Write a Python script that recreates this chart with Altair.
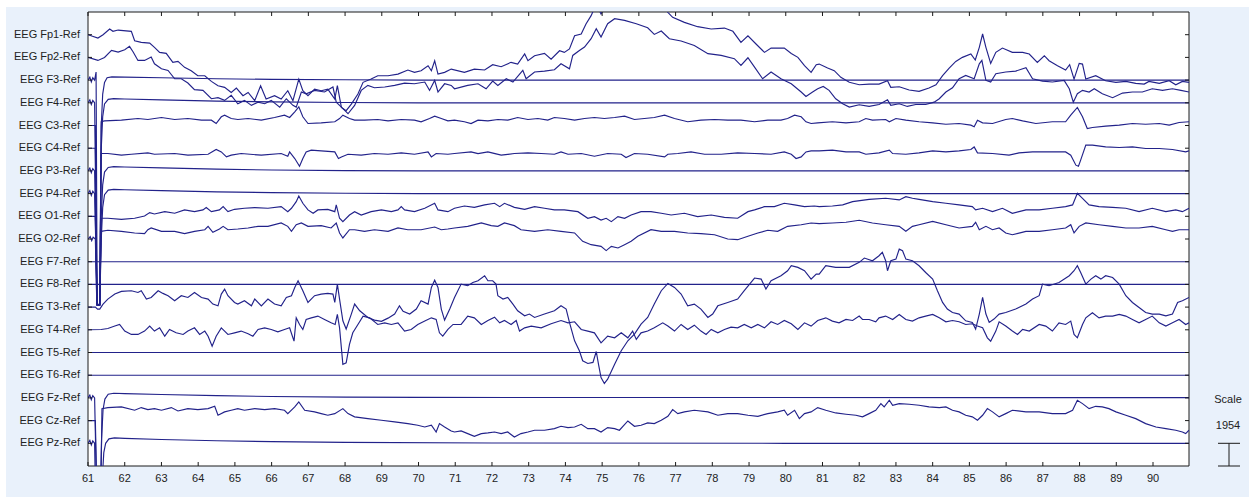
import altair as alt
import pandas as pd

# 19-channel referential EEG montage, 61-91 s window. Values in microvolts.
CHANNELS = [
    "EEG Fp1-Ref", "EEG Fp2-Ref", "EEG F3-Ref", "EEG F4-Ref", "EEG C3-Ref",
    "EEG C4-Ref", "EEG P3-Ref", "EEG P4-Ref", "EEG O1-Ref", "EEG O2-Ref",
    "EEG F7-Ref", "EEG F8-Ref", "EEG T3-Ref", "EEG T4-Ref", "EEG T5-Ref",
    "EEG T6-Ref", "EEG Fz-Ref", "EEG Cz-Ref", "EEG Pz-Ref",
]
SCALE_UV = 1954          # microvolts per trace spacing
SECONDS = list(range(61, 91))

# (time s, amplitude uV) samples per channel
FP1 = [(61.00,0),(61.27,-290),(61.41,0),(61.59,490),(61.68,290),(61.82,400),(62.18,290),(62.27,-520),(62.45,-660),(62.68,-720),(62.81,-1090),(62.95,-1520),(63.13,-1610),(63.31,-2380),(63.45,-2300),(63.63,-2810),(63.81,-3100),(63.99,-3530),(64.18,-3530),(64.36,-4020),(64.54,-4390),(64.72,-4530),(64.90,-4970),(65.04,-4590),(65.22,-5250),(65.36,-4970),(65.54,-5680),(65.70,-4390),(65.85,-5540),(66.08,-5250),(66.26,-5540),(66.44,-4820),(66.58,-5680),(66.74,-3820),(66.85,-4820),(66.99,-5250),(67.17,-4680),(67.35,-4820),(67.53,-4680),(67.72,-5540),(67.79,-4390),(67.90,-6260),(68.03,-6540),(68.17,-5970),(68.35,-5110),(68.49,-4100),(68.71,-3820),(68.89,-3530),(69.17,-3530),(69.44,-3390),(69.71,-3040),(69.89,-3240),(70.07,-3100),(70.26,-2670),(70.35,-3100),(70.44,-2240),(70.53,-3390),(70.71,-3240),(70.89,-2960),(71.25,-3240),(71.52,-2960),(71.80,-3040),(72.02,-2580),(72.25,-2760),(72.52,-2380),(72.70,-2530),(72.89,-1660),(72.98,-2240),(73.16,-1810),(73.43,-1610),(73.61,-2100),(73.84,-1380),(73.97,-1520),(74.11,-1230),(74.25,-90),(74.43,60),(74.56,920),(74.70,1640),(74.84,2640),(74.97,1780),(75.11,2640),(75.34,3500),(76.06,3790),(76.61,2640),(76.79,1920),(76.92,1490),(77.24,1060),(77.60,690),(77.97,490),(78.33,570),(78.56,290),(78.78,-660),(78.97,-90),(79.19,-800),(79.42,-1520),(79.60,-1150),(79.96,-1150),(80.15,-1610),(80.33,-1950),(80.51,-2670),(80.69,-3240),(80.83,-2580),(80.91,-2530),(81.14,-2870),(81.32,-3100),(81.50,-3670),(81.73,-4100),(82.00,-4310),(82.27,-4250),(82.54,-4250),(82.77,-3960),(82.86,-4530),(83.09,-4480),(83.36,-4760),(83.63,-4880),(83.90,-4590),(84.09,-4310),(84.27,-3530),(84.45,-2870),(84.63,-2300),(84.81,-1950),(85.04,-1660),(85.16,-2180),(85.27,-1090),(85.36,60),(85.45,-1090),(85.58,-2470),(85.72,-1520),(85.90,-1150),(86.17,-1520),(86.45,-1520),(86.63,-1660),(86.85,-2380),(87.04,-1810),(87.17,-2240),(87.40,-2670),(87.62,-3040),(87.73,-2580),(87.85,-3820),(87.99,-2470),(88.08,-2530),(88.17,-3820),(88.44,-3530),(88.71,-3960),(88.99,-4100),(89.26,-4020),(89.53,-4190),(89.76,-4250),(89.89,-4020),(90.17,-4190),(90.44,-3960),(90.62,-4310),(90.80,-4020),(90.98,-4100)]

FP2 = [(61.00,0),(61.27,-260),(61.45,0),(61.64,600),(61.82,460),(62.00,660),(62.13,950),(62.23,460),(62.36,-260),(62.54,-260),(62.72,30),(62.81,-550),(63.00,-980),(63.18,-1120),(63.36,-1840),(63.54,-1840),(63.72,-2210),(63.90,-2780),(64.13,-2840),(64.36,-3560),(64.54,-3470),(64.72,-3700),(64.90,-3270),(65.08,-3990),(65.26,-3700),(65.45,-4130),(65.63,-3850),(65.81,-3990),(65.99,-3700),(66.22,-4280),(66.40,-3560),(66.58,-4130),(66.67,-4280),(66.81,-2980),(66.94,-3130),(67.17,-2840),(67.44,-2980),(67.67,-2550),(67.76,-3850),(67.90,-4280),(68.08,-4850),(68.26,-4130),(68.44,-2840),(68.62,-2410),(68.80,-2610),(69.08,-2550),(69.35,-2410),(69.62,-2210),(69.89,-2270),(70.17,-2120),(70.30,-2840),(70.44,-1980),(70.53,-2980),(70.71,-2270),(70.89,-2410),(70.98,-2700),(71.34,-2410),(71.62,-2270),(71.84,-2700),(72.02,-2040),(72.16,-2410),(72.39,-1840),(72.57,-2120),(72.84,-1120),(72.93,-1840),(73.16,-1260),(73.43,-1180),(73.70,-1060),(73.88,-550),(74.11,-980),(74.20,170),(74.38,600),(74.52,890),(74.70,1610),(74.84,2470),(74.97,1750),(75.15,2900),(75.34,3330),(75.61,3190),(75.93,2900),(76.24,2550),(76.42,1980),(76.61,2270),(76.83,1610),(77.15,1410),(77.51,1030),(77.88,320),(78.24,170),(78.60,-110),(78.78,-690),(78.97,-30),(79.15,-830),(79.37,-1840),(79.60,-1260),(79.87,-1840),(80.15,-2270),(80.42,-2980),(80.55,-3360),(80.73,-2980),(80.87,-2700),(81.02,-2500),(81.18,-2840),(81.36,-3560),(81.55,-3990),(81.73,-4280),(82.00,-4080),(82.27,-4220),(82.54,-4050),(82.77,-3640),(82.86,-4130),(83.09,-3990),(83.31,-4220),(83.54,-4050),(83.81,-4050),(84.04,-3850),(84.18,-3560),(84.36,-2980),(84.54,-2610),(84.72,-1840),(84.90,-1550),(85.13,-1840),(85.27,-550),(85.34,-260),(85.45,-1980),(85.58,-2120),(85.72,-1410),(85.99,-1260),(86.26,-1180),(86.54,-890),(86.72,-1840),(86.99,-2040),(87.26,-2120),(87.58,-1980),(87.72,-2700),(87.83,-3850),(87.94,-3130),(88.08,-2840),(88.26,-2980),(88.40,-2700),(88.62,-3130),(88.90,-3470),(89.17,-3070),(89.44,-2980),(89.71,-2980),(89.98,-2700),(90.26,-2840),(90.53,-2700),(90.76,-2840),(90.98,-2980)]

F3 = [(61.00,0),(61.05,250),(61.09,-150),(61.13,200),(61.18,0),(61.22,690),(61.25,-19350),(61.32,-19350),(61.36,-4000),(61.40,-1200),(61.45,-200),(61.52,200),(61.65,280),(62.00,260),(63.00,200),(64.50,120),(66.00,60),(68.00,30),(70.00,0),(91.00,0)]
F4 = [(61.00,0),(61.05,250),(61.09,-150),(61.13,200),(61.18,0),(61.25,-17420),(61.32,-17420),(61.36,-4000),(61.40,-1200),(61.45,-100),(61.55,300),(61.70,360),(62.00,330),(63.00,250),(64.50,150),(66.00,80),(68.00,30),(70.00,0),(91.00,0)]

C3 = [(61.00,0),(61.20,0),(61.24,-15440),(61.32,-15440),(61.36,320),(61.45,400),(61.91,460),(62.36,600),(62.63,520),(63.00,690),(63.36,520),(63.72,600),(64.09,460),(64.36,460),(64.49,170),(64.63,750),(64.72,890),(64.90,600),(65.08,520),(65.36,600),(65.72,460),(66.08,690),(66.35,890),(66.49,690),(66.63,1180),(66.74,1610),(66.85,750),(66.99,170),(67.35,230),(67.72,320),(67.85,600),(67.94,890),(68.12,600),(68.26,460),(68.53,460),(68.89,520),(69.17,400),(69.53,520),(69.89,460),(70.07,320),(70.30,600),(70.44,800),(70.62,600),(70.80,400),(70.98,460),(71.25,320),(71.43,170),(71.62,460),(71.89,400),(72.16,520),(72.43,460),(72.70,690),(72.98,520),(73.25,600),(73.52,460),(73.70,690),(73.97,600),(74.25,460),(74.52,600),(74.79,690),(75.06,600),(75.34,690),(75.61,800),(75.88,520),(76.15,600),(76.42,690),(76.70,890),(76.97,600),(77.33,320),(77.69,460),(78.06,520),(78.42,460),(78.78,460),(79.15,320),(79.51,460),(79.87,460),(80.05,600),(80.24,890),(80.42,750),(80.55,320),(80.69,170),(80.87,230),(81.27,320),(81.64,230),(82.00,320),(82.18,600),(82.36,460),(82.72,520),(82.82,320),(83.00,600),(83.27,460),(83.63,320),(84.00,230),(84.36,110),(84.72,170),(85.04,30),(85.13,-110),(85.22,460),(85.36,230),(85.63,170),(85.99,520),(86.17,600),(86.45,400),(86.81,170),(87.26,320),(87.62,320),(87.76,890),(87.94,1550),(88.08,750),(88.21,-260),(88.35,-170),(88.71,-60),(89.08,30),(89.44,170),(89.80,110),(90.17,170),(90.44,30),(90.71,260),(90.98,320)]

C4 = [(61.00,0),(61.20,0),(61.24,-13500),(61.32,-13500),(61.36,-460),(61.54,-460),(61.91,-600),(62.18,-520),(62.63,-400),(62.81,-520),(63.36,-460),(63.72,-600),(64.27,-520),(64.49,-110),(64.63,-320),(64.77,-750),(64.90,-600),(65.17,-460),(65.72,-600),(66.26,-460),(66.44,-690),(66.49,-320),(66.63,-890),(66.76,-1550),(66.85,-890),(66.94,-320),(67.08,-170),(67.35,-230),(67.72,-320),(67.82,-890),(67.90,-750),(68.08,-520),(68.44,-600),(68.80,-460),(69.17,-520),(69.53,-400),(69.89,-520),(70.26,-320),(70.35,-750),(70.48,-460),(70.80,-520),(70.98,-460),(71.43,-320),(71.62,-460),(71.89,-320),(72.25,-600),(72.61,-460),(72.98,-400),(73.34,-460),(73.70,-520),(73.88,-320),(74.07,-520),(74.43,-460),(74.79,-690),(75.15,-460),(75.52,-520),(75.65,-800),(75.88,-460),(76.24,-520),(76.70,-750),(76.79,-520),(77.06,-460),(77.42,-320),(77.79,-520),(78.24,-520),(78.69,-400),(79.15,-460),(79.60,-520),(79.96,-320),(80.15,-520),(80.28,-890),(80.42,-750),(80.55,-320),(80.69,-230),(80.91,-230),(81.27,-170),(81.64,-320),(82.00,-320),(82.18,-520),(82.54,-400),(82.82,-170),(82.91,-460),(83.27,-520),(83.63,-400),(84.00,-230),(84.36,-320),(84.72,-230),(85.04,-110),(85.13,110),(85.22,-400),(85.63,-460),(86.08,-600),(86.35,-400),(86.72,-320),(87.26,-320),(87.62,-320),(87.76,-600),(87.90,-1460),(87.97,-1550),(88.03,-1030),(88.17,260),(88.35,260),(88.71,110),(89.08,60),(89.44,110),(89.80,-30),(90.17,-30),(90.53,-110),(90.89,-320),(90.98,-230)]

P3 = [(61.00,0),(61.05,250),(61.09,-150),(61.13,200),(61.18,0),(61.25,-11520),(61.32,-11520),(61.36,-4000),(61.40,-1200),(61.45,-100),(61.55,300),(61.70,370),(62.00,340),(63.00,260),(64.50,150),(66.00,80),(68.00,30),(70.00,0),(91.00,0)]
P4 = [(61.00,0),(61.05,250),(61.09,-150),(61.13,200),(61.18,0),(61.25,-9590),(61.32,-9590),(61.36,-4000),(61.40,-1200),(61.45,-100),(61.55,300),(61.70,360),(62.00,330),(63.00,250),(64.50,150),(66.00,80),(68.00,30),(70.00,0),(91.00,0)]

O1 = [(61.00,0),(61.20,0),(61.24,-7610),(61.32,-7610),(61.36,-170),(61.54,-170),(61.91,-260),(62.27,-170),(62.54,30),(62.68,320),(62.81,200),(63.09,400),(63.36,260),(63.63,550),(63.90,400),(64.13,550),(64.22,750),(64.36,400),(64.58,550),(64.68,830),(64.81,400),(64.99,600),(65.26,690),(65.54,750),(65.90,690),(66.26,830),(66.44,400),(66.54,690),(66.67,1260),(66.74,1750),(66.85,1120),(66.99,550),(67.13,260),(67.26,550),(67.53,600),(67.72,400),(67.76,980),(67.85,-170),(67.94,-460),(68.12,110),(68.26,400),(68.44,110),(68.71,400),(68.99,550),(69.26,400),(69.44,550),(69.53,830),(69.62,550),(69.89,400),(70.17,690),(70.44,1120),(70.53,550),(70.80,400),(70.98,690),(71.25,890),(71.52,770),(71.80,980),(72.07,1120),(72.21,830),(72.34,1120),(72.61,770),(72.89,600),(73.16,830),(73.43,690),(73.70,550),(73.97,550),(74.34,400),(74.61,-170),(74.79,-30),(74.97,-320),(75.11,-170),(75.25,-460),(75.43,-30),(75.61,-170),(75.79,110),(76.06,400),(76.33,400),(76.61,260),(76.88,110),(77.24,260),(77.60,-30),(77.97,110),(78.33,-90),(78.69,-170),(78.97,400),(79.15,550),(79.42,830),(79.69,830),(79.96,1120),(80.24,980),(80.51,830),(80.78,890),(80.91,830),(81.27,890),(81.55,980),(81.82,1260),(82.27,1460),(82.72,1550),(83.09,1410),(83.27,1690),(83.45,1550),(83.63,1460),(84.00,1260),(84.36,1120),(84.72,980),(85.08,830),(85.17,550),(85.36,690),(85.63,400),(85.90,690),(86.17,260),(86.54,550),(86.90,550),(87.26,690),(87.62,830),(87.81,980),(87.94,1980),(88.08,1550),(88.26,980),(88.53,830),(88.90,770),(89.26,690),(89.62,400),(89.98,690),(90.35,400),(90.62,550),(90.80,400),(90.98,690)]

O2 = [(61.00,0),(61.06,200),(61.10,-150),(61.14,150),(61.20,0),(61.24,-5630),(61.32,-5630),(61.36,660),(61.54,750),(61.91,660),(62.27,520),(62.54,460),(62.63,800),(62.72,950),(63.00,660),(63.36,660),(63.63,460),(63.90,660),(64.18,800),(64.27,1090),(64.40,570),(64.58,860),(64.68,1090),(64.81,800),(65.08,860),(65.36,950),(65.63,1090),(65.90,1090),(66.26,1380),(66.44,1090),(66.54,660),(66.67,1230),(66.81,1380),(66.99,1090),(67.35,1150),(67.62,950),(67.76,1380),(67.85,520),(67.94,90),(68.12,800),(68.26,800),(68.53,660),(68.80,800),(69.17,660),(69.44,950),(69.71,800),(70.07,800),(70.44,1030),(70.62,800),(70.80,860),(70.98,950),(71.34,1090),(71.71,1380),(71.98,1150),(72.16,1090),(72.34,1380),(72.61,1150),(72.79,800),(73.16,660),(73.52,800),(73.88,660),(74.25,520),(74.47,-200),(74.70,-490),(74.97,-630),(75.11,-1000),(75.25,-630),(75.43,-770),(75.61,-490),(75.79,-200),(75.97,230),(76.33,800),(76.61,660),(76.97,660),(77.33,520),(77.69,460),(78.06,370),(78.42,0),(78.69,-60),(78.97,230),(79.24,520),(79.51,750),(79.78,660),(80.05,1090),(80.42,1230),(80.69,1380),(80.91,1320),(81.27,1380),(81.64,1440),(82.00,1610),(82.36,1380),(82.72,1230),(83.09,1090),(83.27,660),(83.45,1090),(83.63,1230),(84.00,1520),(84.36,1230),(84.72,950),(85.08,1090),(85.17,1440),(85.27,800),(85.45,1090),(85.63,800),(85.81,950),(85.99,520),(86.17,370),(86.54,660),(86.90,660),(87.26,800),(87.62,950),(87.76,1230),(87.85,520),(87.99,1090),(88.17,1380),(88.53,1230),(88.90,1090),(89.26,950),(89.62,950),(89.98,1090),(90.35,800),(90.53,660),(90.71,800),(90.98,800)]

F7 = [(61.00,0),(91.00,0)]
F8 = [(61.00,0),(91.00,0)]

T3 = [(61.00,0),(61.20,0),(61.26,-170),(61.32,-170),(61.41,260),(61.54,690),(61.73,1120),(61.91,1350),(62.18,1410),(62.36,1260),(62.45,1410),(62.59,690),(62.72,830),(62.91,1410),(63.04,1180),(63.18,980),(63.36,550),(63.54,980),(63.72,830),(63.90,1260),(64.09,830),(64.27,690),(64.40,260),(64.54,110),(64.63,1120),(64.72,1550),(64.81,980),(64.99,400),(65.08,260),(65.26,550),(65.45,110),(65.54,690),(65.72,110),(65.90,690),(66.08,260),(66.26,110),(66.40,830),(66.54,980),(66.63,1690),(66.72,2270),(66.85,1410),(66.99,400),(67.17,980),(67.35,1120),(67.53,1180),(67.67,1120),(67.72,400),(67.79,1980),(67.85,690),(67.94,-1180),(68.03,-1890),(68.17,-600),(68.26,260),(68.40,-320),(68.62,-890),(68.80,-1120),(68.99,-1230),(69.17,-950),(69.35,-600),(69.48,110),(69.58,-370),(69.76,-600),(69.94,-170),(70.07,550),(70.26,260),(70.35,1690),(70.44,2320),(70.53,1690),(70.62,-170),(70.71,-1120),(70.85,-170),(70.98,830),(71.16,1980),(71.34,1840),(71.48,2120),(71.62,2270),(71.80,2700),(71.89,2270),(72.02,2270),(72.11,1980),(72.16,980),(72.30,690),(72.43,830),(72.57,260),(72.70,-320),(72.89,-750),(73.02,-600),(73.16,-890),(73.43,-600),(73.70,-320),(73.88,110),(74.02,-170),(74.11,-1320),(74.25,-2900),(74.38,-3760),(74.47,-4620),(74.61,-4850),(74.75,-4760),(74.84,-3820),(74.90,-4910),(74.97,-6060),(75.06,-6570),(75.15,-6200),(75.34,-4910),(75.52,-3760),(75.70,-2900),(75.88,-2320),(76.06,-1460),(76.24,-890),(76.42,260),(76.61,1410),(76.79,2040),(76.97,1690),(77.15,1120),(77.33,110),(77.51,260),(77.69,-170),(77.88,-890),(78.01,-600),(78.15,110),(78.42,400),(78.69,690),(78.87,1410),(79.15,2500),(79.33,2410),(79.46,1550),(79.60,2270),(79.87,2700),(80.05,3130),(80.15,3560),(80.33,3420),(80.51,3130),(80.69,2410),(80.83,2840),(80.91,2840),(81.09,3560),(81.36,3420),(81.73,3420),(82.00,3850),(82.14,4220),(82.36,3990),(82.54,4420),(82.63,4710),(82.72,3990),(82.77,3130),(82.86,3990),(83.00,4130),(83.09,4990),(83.18,4850),(83.27,4130),(83.45,3990),(83.63,3560),(83.81,2980),(84.00,2410),(84.13,1410),(84.27,400),(84.40,-170),(84.54,-460),(84.72,-600),(84.90,-1180),(85.08,-1320),(85.17,-1890),(85.27,-600),(85.36,830),(85.45,-600),(85.54,-1320),(85.67,-1030),(85.81,-600),(85.99,-460),(86.26,-170),(86.54,260),(86.72,690),(86.90,980),(86.99,1980),(87.17,1840),(87.44,2120),(87.72,2700),(87.85,3130),(87.94,3560),(88.03,2980),(88.17,1980),(88.31,2410),(88.44,2700),(88.58,2410),(88.71,2700),(88.90,2550),(89.08,1980),(89.26,980),(89.44,400),(89.62,-30),(89.80,-460),(89.98,-600),(90.17,-600),(90.35,-750),(90.53,-600),(90.67,400),(90.80,550),(90.98,830)]

T4 = [(61.00,0),(61.36,30),(61.54,110),(61.73,320),(61.86,460),(62.00,-110),(62.18,-400),(62.36,-400),(62.54,-110),(62.68,320),(62.81,-110),(62.95,170),(63.09,-550),(63.22,30),(63.40,-260),(63.59,-400),(63.72,-110),(63.90,170),(64.04,-400),(64.18,-110),(64.27,-550),(64.38,-1410),(64.49,-550),(64.63,170),(64.81,-400),(64.99,-260),(65.17,-110),(65.36,-340),(65.49,-550),(65.63,30),(65.81,170),(65.99,30),(66.17,-170),(66.35,30),(66.49,170),(66.55,-400),(66.61,-980),(66.67,1030),(66.76,460),(66.85,30),(66.94,890),(67.08,1030),(67.26,1180),(67.44,890),(67.62,600),(67.73,460),(67.79,1320),(67.85,170),(67.94,-2980),(68.03,-2840),(68.12,-1260),(68.21,-260),(68.35,460),(68.49,1180),(68.67,1030),(68.89,460),(69.08,600),(69.26,460),(69.44,600),(69.62,-110),(69.80,30),(69.98,460),(70.17,750),(70.35,1030),(70.48,890),(70.57,-260),(70.66,-550),(70.80,30),(70.94,460),(71.16,460),(71.34,1180),(71.52,1030),(71.71,460),(71.89,800),(72.07,1090),(72.21,600),(72.34,800),(72.52,460),(72.66,800),(72.75,-110),(72.89,170),(73.07,320),(73.34,170),(73.61,520),(73.88,800),(74.07,600),(74.25,690),(74.43,30),(74.61,-110),(74.79,-260),(74.97,-1120),(75.15,-550),(75.34,-690),(75.52,-260),(75.70,-690),(75.83,-110),(75.93,-830),(76.06,-260),(76.24,-110),(76.42,170),(76.65,600),(76.79,320),(76.97,-110),(77.15,460),(77.33,30),(77.51,400),(77.69,-110),(77.83,-400),(77.97,30),(78.15,-260),(78.33,30),(78.51,230),(78.69,170),(78.87,460),(79.06,170),(79.24,460),(79.42,170),(79.60,690),(79.78,460),(79.96,800),(80.15,520),(80.33,30),(80.51,600),(80.69,320),(80.87,800),(81.09,1030),(81.27,750),(81.45,600),(81.64,890),(81.82,800),(82.00,1180),(82.09,890),(82.27,890),(82.45,690),(82.54,1030),(82.72,1180),(82.91,890),(83.09,1320),(83.27,890),(83.45,750),(83.63,1030),(83.81,1180),(84.00,1320),(84.18,1030),(84.36,690),(84.54,800),(84.72,690),(84.90,460),(85.08,520),(85.22,320),(85.36,170),(85.49,-690),(85.58,-980),(85.72,-110),(85.81,690),(85.99,320),(86.17,-110),(86.31,-400),(86.45,30),(86.63,-110),(86.90,460),(87.08,320),(87.26,-110),(87.44,600),(87.62,460),(87.76,750),(87.85,-400),(87.94,-690),(88.08,460),(88.17,1030),(88.35,1460),(88.53,1030),(88.71,1180),(88.90,1180),(89.08,1320),(89.26,1180),(89.44,890),(89.62,600),(89.80,890),(89.98,1180),(90.17,600),(90.35,320),(90.53,600),(90.71,890),(90.89,460),(90.98,600)]

T5 = [(61.00,0),(91.00,0)]
T6 = [(61.00,0),(91.00,0)]

FZ = [(61.00,0),(61.05,250),(61.09,-150),(61.13,200),(61.18,0),(61.24,-9000),(61.33,-9000),(61.37,-3500),(61.41,-1000),(61.46,-100),(61.55,320),(61.70,400),(62.00,370),(63.00,290),(64.50,190),(66.00,120),(68.00,70),(70.00,40),(91.00,20)]
CZ = [(61.00,0),(61.20,0),(61.26,-9000),(61.34,-9000),(61.38,1030),(61.54,1120),(61.91,1180),(62.27,890),(62.45,1120),(62.63,950),(62.81,1030),(63.00,890),(63.27,1120),(63.45,830),(63.72,1030),(63.99,950),(64.27,1030),(64.45,1230),(64.54,460),(64.72,750),(64.90,890),(65.08,1030),(65.26,890),(65.54,1030),(65.81,950),(66.08,1030),(66.35,890),(66.44,600),(66.63,1180),(66.74,1610),(66.90,890),(67.17,750),(67.35,600),(67.53,460),(67.72,600),(67.94,1030),(68.08,600),(68.26,320),(68.62,170),(68.99,30),(69.35,-110),(69.71,-260),(69.98,-400),(70.17,-550),(70.35,-400),(70.48,-980),(70.57,-260),(70.71,-550),(70.89,-890),(70.98,-980),(71.16,-890),(71.34,-1120),(71.52,-1350),(71.71,-1120),(71.89,-1060),(72.07,-980),(72.25,-1120),(72.43,-980),(72.61,-1410),(72.79,-1120),(72.98,-980),(73.16,-830),(73.43,-830),(73.70,-690),(73.88,-490),(74.07,-600),(74.25,-550),(74.43,-320),(74.61,-690),(74.79,-690),(74.97,-980),(75.15,-600),(75.34,-690),(75.47,-830),(75.70,-30),(75.88,-490),(76.06,-400),(76.24,-200),(76.42,-260),(76.61,30),(76.79,370),(76.92,950),(77.06,600),(77.24,750),(77.51,890),(77.88,750),(78.15,460),(78.42,600),(78.69,600),(78.97,460),(79.24,370),(79.51,600),(79.78,750),(79.96,890),(80.05,460),(80.24,890),(80.37,170),(80.51,600),(80.69,750),(80.87,1120),(81.09,890),(81.36,660),(81.64,550),(81.91,460),(82.09,320),(82.27,600),(82.45,890),(82.59,1460),(82.68,1180),(82.82,1750),(82.91,1320),(83.09,1460),(83.36,1410),(83.63,1320),(83.90,1180),(84.18,1120),(84.36,1180),(84.54,890),(84.72,750),(84.90,460),(85.08,320),(85.22,30),(85.36,460),(85.49,1030),(85.63,750),(85.81,320),(85.99,600),(86.17,890),(86.54,750),(86.90,750),(87.26,600),(87.62,600),(87.81,890),(87.94,1750),(88.08,1460),(88.26,1030),(88.44,1230),(88.62,1180),(88.80,1030),(88.99,750),(89.26,460),(89.53,170),(89.80,-260),(90.08,-550),(90.35,-690),(90.62,-830),(90.80,-980),(90.89,-1120),(90.98,-830)]
PZ = [(61.00,0),(61.05,250),(61.09,-150),(61.13,200),(61.18,0),(61.23,-9000),(61.35,-9000),(61.39,-3000),(61.43,-800),(61.48,0),(61.57,380),(61.72,470),(62.00,430),(63.00,330),(64.50,220),(66.00,140),(68.00,80),(72.00,30),(80.00,0),(91.00,0)]

SIGNALS = [FP1, FP2, F3, F4, C3, C4, P3, P4, O1, O2,
           F7, F8, T3, T4, T5, T6, FZ, CZ, PZ]

W, H = 1101, 454
LEFT, TOP = 88, 12
TRACE = "#22228a"
FONT = "Liberation Sans"

rows = []
for k, (name, sig) in enumerate(zip(CHANNELS, SIGNALS), start=1):
    for t, uv in sig:
        rows.append({"channel": name, "row": k, "t": t, "uv": uv})
traces_df = pd.DataFrame(rows)
labels_df = pd.DataFrame({"channel": CHANNELS, "row": list(range(1, len(CHANNELS) + 1))})
sec_df = pd.DataFrame({"t": SECONDS, "lab": [str(s) for s in SECONDS]})
one = pd.DataFrame({"k": [0]})

x_scale = alt.Scale(domain=[61, 90.98], nice=False, zero=False)
y_scale = alt.Scale(domain=[0, 20], reverse=True, nice=False, zero=False)

panel = alt.Chart(one).mark_rect(color="#e9f1fb", clip=False).encode(
    x=alt.value(6 - LEFT), x2=alt.value(1249 - LEFT),
    y=alt.value(7 - TOP), y2=alt.value(497 - TOP))

frame = alt.Chart(one).mark_rect(fill="white", stroke="#1a1a1a", strokeWidth=1).encode(
    x=alt.value(0), x2=alt.value(W), y=alt.value(0), y2=alt.value(H))

traces = alt.Chart(traces_df).mark_line(color=TRACE, strokeWidth=1.15, clip=True).transform_calculate(
    yv=f"datum.row - datum.uv / {SCALE_UV}"
).encode(
    x=alt.X("t:Q", scale=x_scale, axis=None),
    y=alt.Y("yv:Q", scale=y_scale, axis=None),
    detail="channel:N",
    order="t:Q",
)

tick_top = alt.Chart(sec_df).mark_rule(color="#1a1a1a").encode(
    x=alt.X("t:Q", scale=x_scale, axis=None), y=alt.value(0), y2=alt.value(4))
tick_bot = alt.Chart(sec_df).mark_rule(color="#1a1a1a").encode(
    x=alt.X("t:Q", scale=x_scale, axis=None), y=alt.value(H - 4), y2=alt.value(H))
x_labels = alt.Chart(sec_df).mark_text(font=FONT, fontSize=11, color="#222222",
                                        baseline="middle", align="center").encode(
    x=alt.X("t:Q", scale=x_scale, axis=None), y=alt.value(H + 13), text="lab:N")

tick_left = alt.Chart(labels_df).mark_rule(color="#1a1a1a").encode(
    y=alt.Y("row:Q", scale=y_scale, axis=None), x=alt.value(0), x2=alt.value(4))
tick_right = alt.Chart(labels_df).mark_rule(color="#1a1a1a").encode(
    y=alt.Y("row:Q", scale=y_scale, axis=None), x=alt.value(W - 4), x2=alt.value(W))
y_labels = alt.Chart(labels_df).mark_text(font=FONT, fontSize=11, color="#222222",
                                          baseline="middle", align="right").encode(
    y=alt.Y("row:Q", scale=y_scale, axis=None), x=alt.value(-8), text="channel:N")

# calibration bar: one trace spacing = SCALE_UV microvolts
bar_df = pd.DataFrame({"lo": [19], "hi": [20]})
bar_v = alt.Chart(bar_df).mark_rule(color="#1a1a1a", clip=False).encode(
    y=alt.Y("lo:Q", scale=y_scale, axis=None), y2="hi:Q", x=alt.value(1141))
bar_top = alt.Chart(bar_df).mark_rule(color="#1a1a1a", clip=False).encode(
    y=alt.Y("lo:Q", scale=y_scale, axis=None), x=alt.value(1130), x2=alt.value(1152))
bar_bot = alt.Chart(bar_df).mark_rule(color="#1a1a1a", clip=False).encode(
    y=alt.Y("hi:Q", scale=y_scale, axis=None), x=alt.value(1130), x2=alt.value(1152))
scale_txt = alt.Chart(pd.DataFrame({"s": ["Scale", str(SCALE_UV)], "py": [388, 414]})).mark_text(
    font=FONT, fontSize=11, color="#222222", align="center", baseline="middle").encode(
    x=alt.value(1140), y=alt.Y("py:Q", scale=None), text="s:N")

chart = alt.layer(
    panel, frame, traces, tick_top, tick_bot, x_labels,
    tick_left, tick_right, y_labels, bar_v, bar_top, bar_bot, scale_txt,
).properties(
    width=W, height=H,
    padding={"left": LEFT, "top": TOP, "right": 1249 - LEFT - W, "bottom": 497 - TOP - H},
    autosize=alt.AutoSizeParams(type="none"),
    background="white",
).configure_view(stroke=None)

chart.save("out.html", embed_options={"renderer": "svg", "actions": False})
